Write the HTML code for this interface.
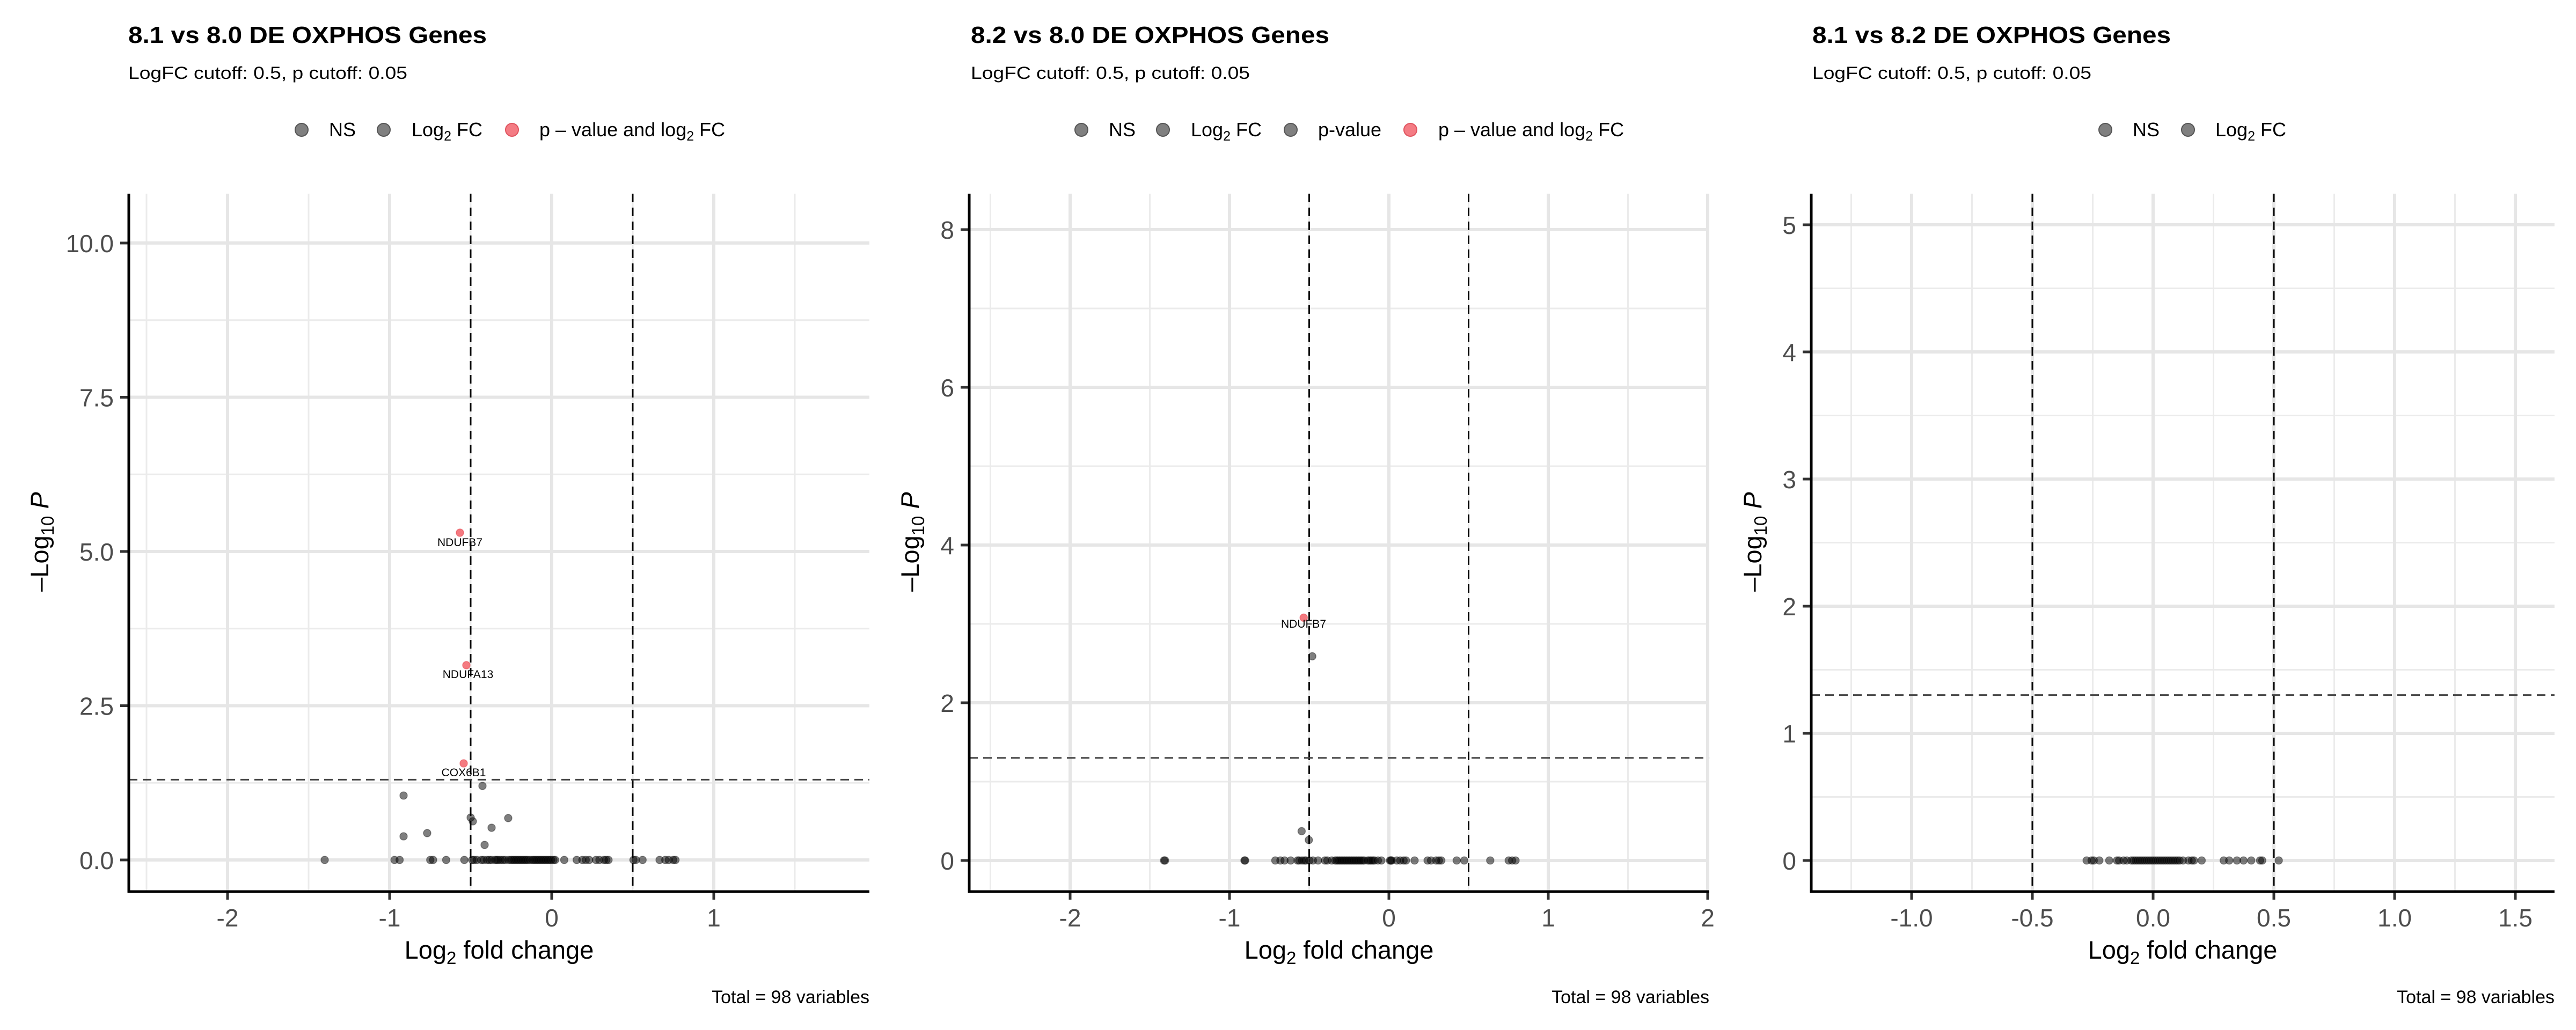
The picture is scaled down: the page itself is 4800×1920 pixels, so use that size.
<!DOCTYPE html>
<html><head><meta charset="utf-8"><style>
html,body{margin:0;padding:0;background:#fff;}
svg{display:block;font-family:"Liberation Sans",sans-serif;}
</style></head><body>
<svg id="s" width="4800" height="1920" viewBox="0 0 4800 1920" xmlns="http://www.w3.org/2000/svg">
<rect width="4800" height="1920" fill="#fff"/>
<g id="grid"></g>
<g id="dash" stroke="#000" stroke-width="3" stroke-dasharray="16 10" fill="none"></g>
<g id="pts"></g>
<g id="axes"></g>

<!-- Titles -->
<g font-weight="bold" font-size="44" fill="#000">
<text x="239" y="80" textLength="668" lengthAdjust="spacingAndGlyphs">8.1 vs 8.0 DE OXPHOS Genes</text>
<text x="1809" y="80" textLength="668" lengthAdjust="spacingAndGlyphs">8.2 vs 8.0 DE OXPHOS Genes</text>
<text x="3377" y="80" textLength="668" lengthAdjust="spacingAndGlyphs">8.1 vs 8.2 DE OXPHOS Genes</text>
</g>
<g font-size="32" fill="#000">
<text x="239" y="147" textLength="520" lengthAdjust="spacingAndGlyphs">LogFC cutoff: 0.5, p cutoff: 0.05</text>
<text x="1809" y="147" textLength="520" lengthAdjust="spacingAndGlyphs">LogFC cutoff: 0.5, p cutoff: 0.05</text>
<text x="3377" y="147" textLength="520" lengthAdjust="spacingAndGlyphs">LogFC cutoff: 0.5, p cutoff: 0.05</text>
</g>

<!-- Legends -->
<g font-size="36" fill="#000">
<circle cx="562" cy="242" r="12" fill="#808080" stroke="#555" stroke-width="2"/>
<text x="613" y="254">NS</text>
<circle cx="715" cy="242" r="12" fill="#808080" stroke="#555" stroke-width="2"/>
<text x="767" y="254">Log<tspan font-size="25" dy="8">2</tspan><tspan dy="-8"> FC</tspan></text>
<circle cx="954" cy="242" r="12" fill="#f47c84" stroke="#e05560" stroke-width="2"/>
<text x="1005" y="254">p – value and log<tspan font-size="25" dy="8">2</tspan><tspan dy="-8"> FC</tspan></text>

<circle cx="2015" cy="242" r="12" fill="#808080" stroke="#555" stroke-width="2"/>
<text x="2066" y="254">NS</text>
<circle cx="2167" cy="242" r="12" fill="#808080" stroke="#555" stroke-width="2"/>
<text x="2219" y="254">Log<tspan font-size="25" dy="8">2</tspan><tspan dy="-8"> FC</tspan></text>
<circle cx="2405" cy="242" r="12" fill="#808080" stroke="#555" stroke-width="2"/>
<text x="2456" y="254">p-value</text>
<circle cx="2628" cy="242" r="12" fill="#f47c84" stroke="#e05560" stroke-width="2"/>
<text x="2680" y="254">p – value and log<tspan font-size="25" dy="8">2</tspan><tspan dy="-8"> FC</tspan></text>

<circle cx="3923" cy="242" r="12" fill="#808080" stroke="#555" stroke-width="2"/>
<text x="3974" y="254">NS</text>
<circle cx="4077" cy="242" r="12" fill="#808080" stroke="#555" stroke-width="2"/>
<text x="4128" y="254">Log<tspan font-size="25" dy="8">2</tspan><tspan dy="-8"> FC</tspan></text>
</g>

<!-- Axis titles -->
<g font-size="47" fill="#000" text-anchor="middle">
<text x="930" y="1787">Log<tspan font-size="33" dy="10">2</tspan><tspan dy="-10"> fold change</tspan></text>
<text x="2495" y="1787">Log<tspan font-size="33" dy="10">2</tspan><tspan dy="-10"> fold change</tspan></text>
<text x="4067" y="1787">Log<tspan font-size="33" dy="10">2</tspan><tspan dy="-10"> fold change</tspan></text>
<text transform="translate(90,1010) rotate(-90)">–Log<tspan font-size="33" dy="10">10</tspan><tspan dy="-10" font-style="italic"> P</tspan></text>
<text transform="translate(1712,1010) rotate(-90)">–Log<tspan font-size="33" dy="10">10</tspan><tspan dy="-10" font-style="italic"> P</tspan></text>
<text transform="translate(3282,1010) rotate(-90)">–Log<tspan font-size="33" dy="10">10</tspan><tspan dy="-10" font-style="italic"> P</tspan></text>
</g>
<g font-size="34" fill="#000" text-anchor="end">
<text x="1620" y="1870">Total = 98 variables</text>
<text x="3185" y="1870">Total = 98 variables</text>
<text x="4760" y="1870">Total = 98 variables</text>
</g>

<!-- Point labels -->
<g font-size="21" fill="#000" text-anchor="middle">
<text x="857" y="1018">NDUFB7</text>
<text x="872" y="1264">NDUFA13</text>
<text x="864" y="1447">COX6B1</text>
<text x="2429" y="1170">NDUFB7</text>
</g>

<g id="ticklabels" font-size="46" fill="#4d4d4d"></g>
</svg>
<script>
var NS="http://www.w3.org/2000/svg";
function el(p,t,a){var e=document.createElementNS(NS,t);for(var k in a)e.setAttribute(k,a[k]);p.appendChild(e);return e;}
var G=document.getElementById('grid'),D=document.getElementById('dash'),P=document.getElementById('pts'),A=document.getElementById('axes'),T=document.getElementById('ticklabels');
var panels=[
 {l:240,r:1620,t:361,b:1662,x0:1028,xu:302,y0:1603,yu:115,
  xmaj:[-2,-1,0,1],xmin:[-2.5,-1.5,-0.5,0.5,1.5],xl:['-2','-1','0','1'],
  ymaj:[0,2.5,5,7.5,10],ymin:[1.25,3.75,6.25,8.75],yl:['0.0','2.5','5.0','7.5','10.0']},
 {l:1806,r:3185,t:361,b:1662,x0:2588,xu:297,y0:1604,yu:147,
  xmaj:[-2,-1,0,1,2],xmin:[-2.5,-1.5,-0.5,0.5,1.5],xl:['-2','-1','0','1','2'],
  ymaj:[0,2,4,6,8],ymin:[1,3,5,7],yl:['0','2','4','6','8']},
 {l:3375,r:4760,t:361,b:1662,x0:4012,xu:450,y0:1604,yu:237,
  xmaj:[-1,-0.5,0,0.5,1,1.5],xmin:[-1.25,-0.75,-0.25,0.25,0.75,1.25],xl:['-1.0','-0.5','0.0','0.5','1.0','1.5'],
  ymaj:[0,1,2,3,4,5],ymin:[0.5,1.5,2.5,3.5,4.5],yl:['0','1','2','3','4','5']}
];
panels.forEach(function(p){
 var X=function(v){return p.x0+p.xu*v},Y=function(v){return p.y0-p.yu*v};
 p.xmin.forEach(function(v){var x=X(v);if(x>p.l&&x<p.r)el(G,'line',{x1:x,x2:x,y1:p.t,y2:p.b,stroke:'#ebebeb','stroke-width':3});});
 p.ymin.forEach(function(v){var y=Y(v);if(y>p.t&&y<p.b)el(G,'line',{x1:p.l,x2:p.r,y1:y,y2:y,stroke:'#ebebeb','stroke-width':3});});
 p.xmaj.forEach(function(v,i){var x=X(v);el(G,'line',{x1:x,x2:x,y1:p.t,y2:p.b,stroke:'#e6e6e6','stroke-width':6});
   el(A,'line',{x1:x,x2:x,y1:p.b,y2:p.b+15,stroke:'#333','stroke-width':5});
   var t=el(T,'text',{x:x,y:1727,'text-anchor':'middle'});t.textContent=p.xl[i];});
 p.ymaj.forEach(function(v,i){var y=Y(v);el(G,'line',{x1:p.l,x2:p.r,y1:y,y2:y,stroke:'#e6e6e6','stroke-width':6});
   el(A,'line',{x1:p.l-16,x2:p.l,y1:y,y2:y,stroke:'#333','stroke-width':5});
   var t=el(T,'text',{x:p.l-28,y:y+17,'text-anchor':'end'});t.textContent=p.yl[i];});
 el(D,'line',{x1:X(-0.5),x2:X(-0.5),y1:p.t,y2:p.b});
 el(D,'line',{x1:X(0.5),x2:X(0.5),y1:p.t,y2:p.b});
 el(D,'line',{x1:p.l,x2:p.r,y1:Y(1.30103),y2:Y(1.30103),stroke:'#444'});
 el(A,'line',{x1:p.l,x2:p.l,y1:p.t,y2:p.b+2,stroke:'#000','stroke-width':5});
 el(A,'line',{x1:p.l-2,x2:p.r,y1:p.b,y2:p.b,stroke:'#000','stroke-width':5});
});
function grey(x,y){el(P,'circle',{cx:x,cy:y,r:7,fill:'rgba(0,0,0,0.5)',stroke:'rgba(0,0,0,0.35)','stroke-width':1.5});}
function red(x,y){el(P,'circle',{cx:x,cy:y,r:7,fill:'rgba(238,50,60,0.65)',stroke:'rgba(230,60,70,0.5)','stroke-width':1.5});}
[[899,1465],[752,1483],[877,1524],[881,1531],[947,1525],[916,1543],[796,1553],[752,1559],[903,1575]].forEach(function(a){grey(a[0],a[1]);});
[572,695,704,758,763,786,818,832,835,840,848,852,858,862,866,872,875,878,882,886,890,896,900,903,906,909,912,915,918,921,924,927,930,934,938,941,944,947,950,953,956,959,962,965,968,971,975,978,994,1016,1026,1032,1038,1050,1056,1064,1068,1072,1116,1120,1132,1162,1172,1178,1186,1190].forEach(function(z){grey(z*1.0577,1603);});
[[857,993],[869,1240],[864,1423]].forEach(function(a){red(a[0],a[1]);});
[[698,453],[667,1305],[688,1348]].forEach(function(a){grey(2000+a[0]*0.6378,1050+a[1]*0.3827);});
[265,268,500,502,590,605,617,635,655,660,668,675,680,690,700,715,735,742,755,765,770,775,780,785,790,795,800,805,810,815,820,825,830,835,840,845,850,860,865,870,875,880,890,900,925,928,930,945,955,965,972,997,1035,1045,1060,1068,1075,1120,1142,1218,1272,1282,1292].forEach(function(z){grey(2000+z*0.6378,1604);});
red(2000+673*0.6378,1050+265*0.3827);
[671,680,684,694,712,726,730,738,744,752,756,760,764,768,772,776,780,784,788,792,796,800,804,808,812,816,820,824,828,832,836,840,846,856,862,866,880,920,930,944,956,970,986,990,1020].forEach(function(z){grey(3200+z*1.0256,1604);});
</script>
</body></html>
